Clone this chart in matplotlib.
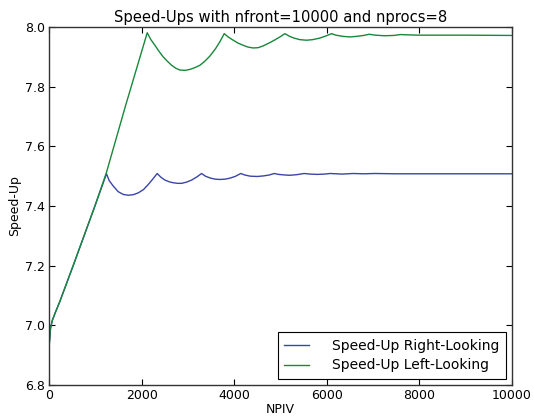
import matplotlib
matplotlib.use("Agg")
import matplotlib.pyplot as plt

right_x = [0, 30, 70, 140, 220, 520, 990, 1240,
           1300, 1386, 1494, 1600, 1711, 1820, 1927, 2040, 2143, 2240, 2337,
           2420, 2504, 2600, 2683, 2780, 2865, 2970, 3081, 3190, 3297,
           3380, 3480, 3590, 3693, 3800, 3900, 4020, 4145,
           4230, 4350, 4500, 4640, 4760, 4867,
           4960, 5100, 5200, 5350, 5515,
           5650, 5800, 5950, 6080,
           6330, 6576, 6800, 7044,
           7500, 8000, 9000, 10000]
right_y = [6.93, 6.99, 7.017, 7.045, 7.075, 7.2, 7.4, 7.508,
           7.485, 7.467, 7.448, 7.439, 7.436, 7.438, 7.444, 7.455, 7.472, 7.490, 7.509,
           7.496, 7.487, 7.481, 7.478, 7.476, 7.476, 7.480, 7.487, 7.497, 7.509,
           7.500, 7.494, 7.490, 7.489, 7.490, 7.493, 7.499, 7.509,
           7.504, 7.500, 7.499, 7.501, 7.504, 7.509,
           7.506, 7.504, 7.503, 7.505, 7.509,
           7.507, 7.506, 7.507, 7.509,
           7.507, 7.509, 7.508, 7.509,
           7.508, 7.508, 7.508, 7.508]

left_x = [0, 30, 70, 140, 220, 520, 990, 1235, 1650, 2121,
          2200, 2288, 2380, 2467, 2560, 2648, 2740, 2828, 2940, 3044, 3150, 3261, 3370, 3477, 3600, 3700, 3786,
          3880, 3981, 4090, 4197, 4300, 4413, 4520, 4629, 4774, 4880, 4990, 5098,
          5200, 5300, 5420, 5568, 5700, 5850, 5980, 6108,
          6200, 6350, 6504, 6650, 6800, 6920,
          7050, 7250, 7450, 7601,
          7750, 8000, 9000, 10000]
left_y = [6.93, 6.99, 7.017, 7.045, 7.075, 7.2, 7.4, 7.51, 7.735, 7.981,
          7.958, 7.939, 7.918, 7.900, 7.885, 7.872, 7.862, 7.856, 7.855, 7.858, 7.864, 7.872, 7.886, 7.903, 7.928, 7.953, 7.978,
          7.966, 7.956, 7.946, 7.939, 7.933, 7.930, 7.931, 7.937, 7.948, 7.957, 7.967, 7.978,
          7.969, 7.963, 7.958, 7.956, 7.958, 7.963, 7.970, 7.978,
          7.973, 7.969, 7.967, 7.969, 7.972, 7.976,
          7.973, 7.971, 7.972, 7.975,
          7.974, 7.973, 7.973, 7.972]

x_ticks = [0, 2000, 4000, 6000, 8000, 10000]
y_ticks = [6.8, 7.0, 7.2, 7.4, 7.6, 7.8, 8.0]

plt.rcParams['font.family'] = ['DejaVu Sans']
fig = plt.figure(figsize=(5.34, 4.17), dpi=100, facecolor='white')
ax = fig.add_axes([0.092, 0.077, 0.866, 0.858])

ax.plot(right_x, right_y, color='#3a45a8', lw=1.0, label='Speed-Up Right-Looking')
ax.plot(left_x, left_y, color='#18883a', lw=1.0, label='Speed-Up Left-Looking')

ax.set_xlim(0, 10000)
ax.set_ylim(6.8, 8.0)
ax.set_xticks(x_ticks)
ax.set_yticks(y_ticks)
ax.set_yticklabels([f"{v:.1f}" for v in y_ticks])
ax.tick_params(direction='in', top=True, right=True, length=4, labelsize=9, pad=3)
for s in ax.spines.values():
    s.set_color('#333333')
    s.set_linewidth(1.0)

ax.set_title('Speed-Ups with nfront=10000 and nprocs=8', fontsize=10.6, pad=4)
ax.set_xlabel('NPIV', fontsize=9, labelpad=1)
ax.set_ylabel('Speed-Up', fontsize=9, labelpad=3)

leg = ax.legend(loc='lower right', fontsize=10, fancybox=False, framealpha=1,
                edgecolor='black', handlelength=1.8, handletextpad=1.6,
                borderpad=0.5, labelspacing=0.4, borderaxespad=0.4)
leg.get_frame().set_linewidth(0.8)

fig.savefig('out.png', dpi=100, facecolor='white')
